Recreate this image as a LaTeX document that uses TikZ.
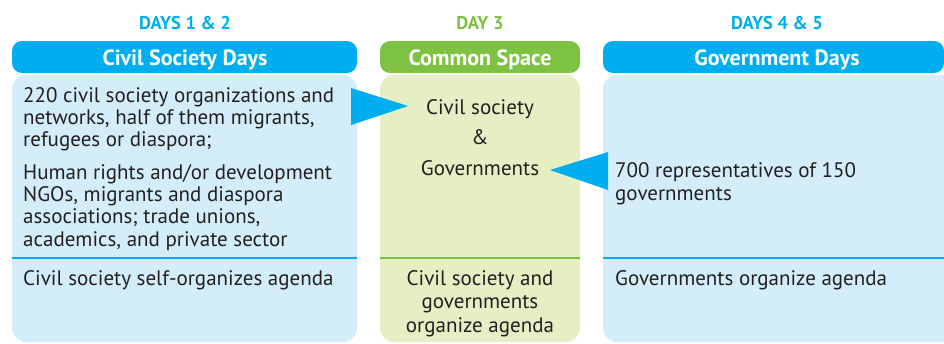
\documentclass[tikz,border=0pt]{standalone}
\usepackage{fontspec}
\setmainfont{PT Sans}
\definecolor{cblue}{HTML}{00AEEF}
\definecolor{lblue}{HTML}{D3EEFA}
\definecolor{cgreen}{HTML}{7DC242}
\definecolor{lgreen}{HTML}{E6EFC3}
\definecolor{ctext}{HTML}{231F20}
\begin{document}
\begin{tikzpicture}[x=1pt,y=1pt,
  daylbl/.style={font=\fontsize{18.5}{20}\selectfont\bfseries, anchor=base, inner sep=0pt},
  hdrtxt/.style={font=\fontsize{22}{24}\selectfont\bfseries, text=white, anchor=base, inner sep=0pt},
  bodyl/.style={font=\fontsize{21}{22.5}\selectfont, text=ctext, inner sep=0pt, anchor=base west},
  bodyc/.style={font=\fontsize{21}{22.5}\selectfont, text=ctext, inner sep=0pt, anchor=base},
  hdr/.style={rounded corners=10pt},
  bodybox/.style={rounded corners=14pt}]
\useasboundingbox (0,0) rectangle (944,-343);
\begin{scope}
\clip (0,0) rectangle (944,-343);
% column 1
\fill[cblue,hdr] (12,-41) rectangle (357,-73);
\fill[lblue,bodybox] (12,-75) rectangle (357,-342);
\draw[cblue,line width=1.2pt] (12,-258) -- (357,-258);
% column 2
\fill[cgreen,hdr] (380,-41) rectangle (580,-73);
\fill[lgreen,bodybox] (380,-75) rectangle (580,-342);
\draw[cgreen,line width=1.2pt] (380,-258) -- (580,-258);
% column 3
\fill[cblue,hdr] (603,-41) rectangle (944,-73);
\fill[lblue,bodybox] (603,-75) rectangle (970,-342);
\draw[cblue,line width=1.2pt] (603,-258) -- (944,-258);
\end{scope}
% day labels
\node[daylbl,text=cblue] (d1) at (185,-29) {DAYS 1 \& 2};
\node[daylbl,text=cgreen] (d3) at (480,-29) {DAY 3};
\node[daylbl,text=cblue] (d45) at (777,-29) {DAYS 4 \& 5};
% headers
\node[hdrtxt] (h1) at (185,-65) {Civil Society Days};
\node[hdrtxt] (h3) at (480,-65) {Common Space};
\node[hdrtxt] (h45) at (777,-65) {Government Days};
% col1 text
\node[bodyl] (t1a) at (23,-102) {220 civil society organizations and};
\node[bodyl] (t1b) at (23,-124.3) {networks, half of them migrants,};
\node[bodyl] (t1c) at (23,-146.6) {refugees or diaspora;};
\node[bodyl] (t2a) at (23,-179) {Human rights and/or development};
\node[bodyl] (t2b) at (23,-201.3) {NGOs, migrants and diaspora};
\node[bodyl] (t2c) at (23,-223.6) {associations; trade unions,};
\node[bodyl] (t2d) at (23,-246) {academics, and private sector};
\node[bodyl] (t3) at (23,-285) {Civil society self-organizes agenda};
% col2 text
\node[bodyc] (cs) at (480,-114) {Civil society};
\node[bodyc] (amp) at (480,-144.5) {\&};
\node[bodyc] (gov) at (480,-175) {Governments};
\node[bodyc] (t4a) at (480,-285) {Civil society and};
\node[bodyc] (t4b) at (480,-308.5) {governments};
\node[bodyc] (t4c) at (480,-332) {organize agenda};
% col3 text
\node[bodyl] (t5a) at (615,-177.5) {700 representatives of 150};
\node[bodyl] (t5b) at (615,-200) {governments};
\node[bodyl] (t6) at (615,-285) {Governments organize agenda};
% triangles
\coordinate (a1) at (351,-88);
\coordinate (a2) at (351,-125);
\coordinate (a3) at (408,-106);
\fill[cblue] (a1) -- (a3) -- (a2) -- cycle;
\coordinate (b1) at (608,-152);
\coordinate (b2) at (608,-190);
\coordinate (b3) at (550,-170);
\fill[cblue] (b1) -- (b3) -- (b2) -- cycle;
\end{tikzpicture}
\end{document}
